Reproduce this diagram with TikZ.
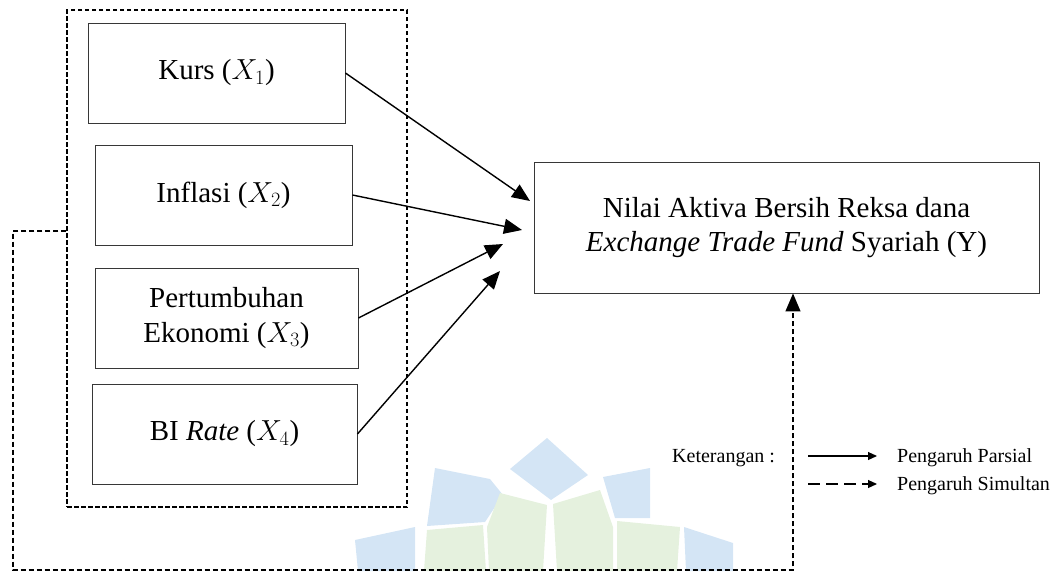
\RequirePackage{fix-cm}
\documentclass[tikz,border=0pt]{standalone}
\usepackage{fontspec}
\setmainfont{Liberation Serif}
\usetikzlibrary{arrows.meta}
\definecolor{wmblue}{RGB}{212,229,245}
\definecolor{wmgreen}{RGB}{229,241,222}
\definecolor{boxline}{RGB}{55,55,55}
\begin{document}
\begin{tikzpicture}[x=1pt,y=-1pt,
  varbox/.style={draw=boxline, line width=0.9pt, minimum width=#1, minimum height=100pt,
    inner sep=0pt, align=center, font=\fontsize{29}{35}\selectfont},
  ybox/.style={draw=boxline, line width=0.9pt, minimum width=505pt, minimum height=131pt,
    inner sep=0pt, align=center, font=\fontsize{29}{34}\selectfont},
  groupbox/.style={draw, line width=1.3pt, dash pattern=on 4.5pt off 2.5pt,
    minimum width=340pt, minimum height=497pt, inner sep=0pt},
  parsial/.style={line width=1.4pt, -{Triangle[length=18pt,width=15pt]}},
  simul/.style={line width=1.3pt, dash pattern=on 5pt off 3pt, -{Triangle[length=18pt,width=15pt]}},
  legtext/.style={inner sep=0pt, font=\fontsize{20}{24}\selectfont},
  legpar/.style={line width=1.2pt, -{Triangle[length=9pt,width=8pt]}},
  legsim/.style={line width=1.2pt, dash pattern=on 12pt off 6pt, -{Triangle[length=9pt,width=8pt]}}
]
\useasboundingbox (0,0) rectangle (1053,571);
% faint watermark
\fill[wmblue] (355,540) -- (415,527) -- (415,571) -- (358,571) -- cycle;
\fill[wmblue] (435,468) -- (490,479) -- (503,495) -- (485,522) -- (427,526) -- cycle;
\fill[wmblue] (547,438) -- (588,475) -- (551,500) -- (510,469) -- cycle;
\fill[wmblue] (603,477) -- (650,468) -- (650,518) -- (615,518) -- cycle;
\fill[wmgreen] (427,530) -- (483,525) -- (486,571) -- (424,571) -- cycle;
\fill[wmgreen] (500,493) -- (547,505) -- (543,571) -- (489,571) -- (487,527) -- cycle;
\fill[wmgreen] (553,504) -- (600,490) -- (613,527) -- (613,571) -- (557,571) -- cycle;
\fill[wmgreen] (617,521) -- (680,527) -- (677,571) -- (617,571) -- cycle;
\fill[wmblue] (684,527) -- (733,543) -- (733,571) -- (686,571) -- cycle;
% nodes
\node[groupbox] (group) at (237,258.5) {};
\node[varbox=257pt] (kurs) at (216.5,73) {Kurs ($X_1$)};
\node[varbox=257pt] (inflasi) at (223.5,195) {Inflasi ($X_2$)};
\node[varbox=263pt] (pert) at (226.5,318) {Pertumbuhan\\Ekonomi ($X_3$)};
\node[varbox=265pt] (bi) at (224.5,434) {BI \textit{Rate} ($X_4$)};
\node[ybox] (Y) at (786.5,227.5) {Nilai Aktiva Bersih Reksa dana\\\textit{Exchange Trade Fund} Syariah (Y)};
% partial arrows
\coordinate (t1) at (530,201);
\coordinate (t2) at (522,230);
\coordinate (t3) at (503,244);
\coordinate (t4) at (500,271);
\draw[parsial] (kurs.east) -- (t1);
\draw[parsial] (inflasi.east) -- (t2);
\draw[parsial] (pert.east) -- (t3);
\draw[parsial] (bi.east) -- (t4);
% simultaneous loop
\coordinate (c1) at (13,570);
\draw[simul] ([yshift=27.5pt]group.west) -| (c1) -| ([xshift=6.5pt]Y.south);
% legend
\node[legtext, anchor=base west] (ket) at (672,462) {Keterangan :};
\coordinate (ls1) at (808,456);
\coordinate (le1) at (877,456);
\coordinate (ls2) at (808,484);
\coordinate (le2) at (877,484);
\draw[legpar] (ls1) -- (le1);
\draw[legsim] (ls2) -- (le2);
\node[legtext, anchor=base west] (parsial) at (897,462) {Pengaruh Parsial};
\node[legtext, anchor=base west] (simultan) at (897,490) {Pengaruh Simultan};
\end{tikzpicture}
\end{document}
